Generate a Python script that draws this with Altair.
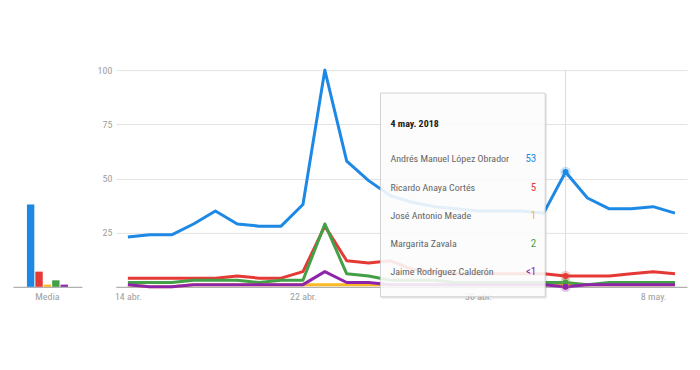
import altair as alt
import pandas as pd

# ---------------- data ----------------
series = ["Andrés Manuel López Obrador", "Ricardo Anaya Cortés", "José Antonio Meade",
          "Margarita Zavala", "Jaime Rodríguez Calderón"]
colors = ["#1e88e5", "#e53935", "#f9b825", "#43a047", "#8e24aa"]

dates = ["2018-04-14", "2018-04-15", "2018-04-16", "2018-04-17", "2018-04-18", "2018-04-19",
         "2018-04-20", "2018-04-21", "2018-04-22", "2018-04-23", "2018-04-24", "2018-04-25",
         "2018-04-26", "2018-04-27", "2018-04-28", "2018-04-29", "2018-04-30", "2018-05-01",
         "2018-05-02", "2018-05-03", "2018-05-04", "2018-05-05", "2018-05-06", "2018-05-07",
         "2018-05-08", "2018-05-09"]

amlo =    [23, 24, 24, 29, 35, 29, 28, 28, 38, 100, 58, 49, 42, 39, 37, 36, 35, 35, 35, 34, 53, 41, 36, 36, 37, 34]
anaya =   [4, 4, 4, 4, 4, 5, 4, 4, 7, 28, 12, 11, 12, 8, 7, 6, 6, 6, 6, 6, 5, 5, 5, 6, 7, 6]
meade =   [1, 0, 0, 1, 1, 1, 1, 1, 1, 1, 1, 1, 1, 1, 1, 1, 1, 1, 1, 1, 1, 1, 1, 1, 1, 1]
zavala =  [2, 2, 2, 3, 3, 3, 2, 3, 3, 29, 6, 5, 3, 3, 3, 2, 2, 2, 2, 2, 2, 1, 2, 2, 2, 2]
bronco =  [1, 0, 0, 1, 1, 1, 1, 1, 1, 7, 2, 2, 1, 1, 1, 1, 1, 1, 1, 1, 0, 1, 1, 1, 1, 1]

media = [38, 7, 1, 3, 1]

hover_date = "2018-05-04"
tooltip_title = "4 may. 2018"
tooltip_values = ["53", "5", "1", "2", "<1"]

tick_dates = [(2018, 4, 14), (2018, 4, 22), (2018, 4, 30), (2018, 5, 8)]
y_ticks = [25, 50, 75, 100]

FONT = "Roboto Condensed, Liberation Sans Narrow, Roboto, sans-serif"

# ---------------- tables ----------------
all_vals = [amlo, anaya, meade, zavala, bronco]
rows = []
for s, vals in zip(series, all_vals):
    for d, v in zip(dates, vals):
        rows.append({"date": d, "serie": s, "value": v})
df = pd.DataFrame(rows)
df_hover = df[df["date"] == hover_date]
dfm = pd.DataFrame({"grp": ["Media"] * len(series), "serie": series, "media": media})

color_scale = alt.Scale(domain=series, range=colors)

# ---------------- media bars ----------------
bars = alt.Chart(dfm).mark_bar().encode(
    x=alt.X("grp:N", title=None,
            scale=alt.Scale(paddingOuter=0.34, paddingInner=0),
            axis=alt.Axis(ticks=False, domainColor="#9e9e9e", labelAngle=0,
                          labelPadding=5, labelFontSize=10)),
    xOffset=alt.XOffset("serie:N", sort=series, scale=alt.Scale(paddingInner=0.12)),
    y=alt.Y("media:Q", scale=alt.Scale(domain=[0, 100]), axis=None),
    color=alt.Color("serie:N", scale=color_scale, legend=None),
).properties(width=69, height=217)

# ---------------- lines ----------------
W, H = 572, 217
x_scale = alt.Scale(type="utc", nice=False, domain=[
    alt.DateTime(year=2018, month=4, date=13, hours=10, minutes=48, utc=True),
    alt.DateTime(year=2018, month=5, date=9, hours=13, minutes=12, utc=True)])
label_expr = ("utcdate(datum.value) + ' ' + ['ene.','feb.','mar.','abr.','may.','jun.','jul.',"
              "'ago.','sept.','oct.','nov.','dic.'][utcmonth(datum.value)]")
x_enc = alt.X("date:T", title=None, scale=x_scale,
              axis=alt.Axis(values=[alt.DateTime(year=y, month=m, date=d, utc=True) for y, m, d in tick_dates],
                            labelExpr=label_expr, ticks=False, grid=False, domainColor="#9e9e9e",
                            labelPadding=5, labelFontSize=10))
y_enc = alt.Y("value:Q", title=None, scale=alt.Scale(domain=[0, 100], nice=False),
              axis=alt.Axis(values=y_ticks, ticks=False, domain=False, grid=True,
                            gridColor="#e3e3e3", labelPadding=4, labelFontSize=10))

base = alt.Chart(df)
lines = base.mark_line(strokeWidth=3, strokeJoin="round").encode(
    x=x_enc, y=y_enc,
    color=alt.Color("serie:N", scale=color_scale, legend=None),
    detail="serie:N",
)

rule = alt.Chart(pd.DataFrame({"date": [hover_date]})).mark_rule(color="#dcdcdc", strokeWidth=1).encode(
    x=alt.X("date:T", scale=x_scale), y=alt.value(0), y2=alt.value(H))

halo = alt.Chart(df_hover).mark_circle(size=110, opacity=0.25).encode(
    x=alt.X("date:T", scale=x_scale), y=alt.Y("value:Q"),
    color=alt.Color("serie:N", scale=color_scale, legend=None))
dots = alt.Chart(df_hover).mark_circle(size=35, opacity=1).encode(
    x=alt.X("date:T", scale=x_scale), y=alt.Y("value:Q"),
    color=alt.Color("serie:N", scale=color_scale, legend=None))

# ---------------- tooltip ----------------
bx1, bx2, by1, by2 = 265, 430, 23, 227
shadow = alt.Chart(pd.DataFrame({"a": [0]})).mark_rect(fill="#000000", opacity=0.08).encode(
    x=alt.value(bx1 + 1), x2=alt.value(bx2 + 2), y=alt.value(by1 + 1), y2=alt.value(by2 + 2))
box = alt.Chart(pd.DataFrame({"a": [0]})).mark_rect(fill="white", opacity=0.88, stroke="#cccccc",
                                                     strokeWidth=1).encode(
    x=alt.value(bx1), x2=alt.value(bx2), y=alt.value(by1), y2=alt.value(by2))
title_txt = alt.Chart(pd.DataFrame({"t": [tooltip_title]})).mark_text(
    align="left", baseline="middle", font=FONT, fontSize=10, fontWeight="bold", color="#212121").encode(
    x=alt.value(bx1 + 10), y=alt.value(54), text="t:N")

tip_layers = []
row_y = [89, 118, 146, 174, 202]
for s, v, c, yy in zip(series, tooltip_values, colors, row_y):
    d = pd.DataFrame({"name": [s], "val": [v]})
    tip_layers.append(alt.Chart(d).mark_text(align="left", baseline="middle", font=FONT,
                                             fontSize=10, color="#666666").encode(
        x=alt.value(bx1 + 10), y=alt.value(yy), text="name:N"))
    tip_layers.append(alt.Chart(d).mark_text(align="right", baseline="middle", font=FONT,
                                             fontSize=11, color=c).encode(
        x=alt.value(bx2 - 9), y=alt.value(yy), text="val:N"))

line_panel = alt.layer(lines, rule, halo, dots, shadow, box, title_txt, *tip_layers).properties(
    width=W, height=H)

chart = alt.hconcat(bars, line_panel, spacing=15).properties(
    padding={"left": 5, "top": 57, "right": 5, "bottom": 5}
).configure_view(stroke=None).configure_axis(
    labelFont=FONT, labelColor="#9e9e9e"
)

chart.save("out.html", embed_options={"renderer": "svg", "actions": False})
